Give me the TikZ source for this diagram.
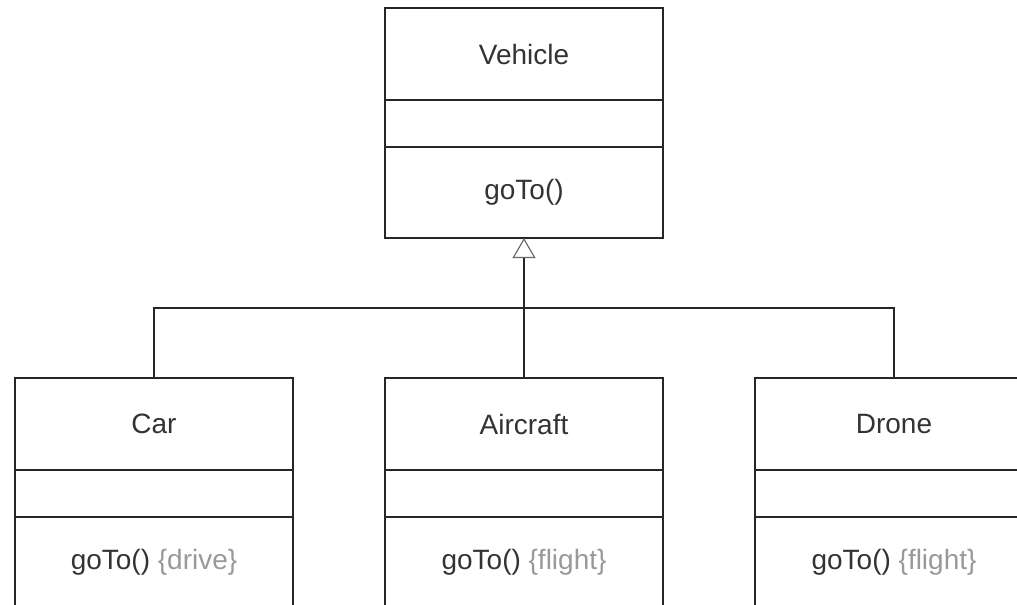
\documentclass[tikz,border=0pt]{standalone}
\usepackage{fontspec}
\setmainfont{Liberation Sans}
\usetikzlibrary{positioning,arrows.meta}

\begin{document}
\begin{tikzpicture}[x=0.025cm, y=-0.025cm]
		\tikzset{
			cpart/.style={
				draw=black!85, line width=1.4pt, rectangle, outer sep=0pt,
				minimum width=6.95cm, text=black!80,
				font=\fontsize{19.9}{24}\selectfont
			},
			cname/.style={
				cpart, minimum height=2.3cm
			},
			cattr/.style={
				cpart, minimum height=1.175cm
			},
			cop/.style={
				cpart, minimum height=2.275cm
			},
			conn/.style={
				draw=black!85, line width=1.4pt
			}
		}
		
		\useasboundingbox (0,0) rectangle (1017,604);
		\clip (0,0) rectangle (1017,604);
		
		\node [cname] (veh) at (524,54) {Vehicle};
		\node [cattr, below=0pt of veh] (veh-a) {};
		\node [cop, below=0pt of veh-a] (veh-o) {goTo()};
		
		\foreach \n/\t/\x/\m in {car/Car/154/drive, air/Aircraft/524/flight, dro/Drone/894/flight}{
			\node [cname] (\n) at (\x,424) {\t};
			\node [cattr, below=0pt of \n] (\n-a) {};
			\node [cop, below=0pt of \n-a] (\n-o) {goTo() \textcolor{black!40}{\{\m\}}};
		}
		
		\path (veh-o.south) -- coordinate[midway] (hub) (air.north);
		\draw [conn, -{Triangle[open, length=0.5cm, width=0.575cm, line width=0.8pt, color=black!60]}] (air.north) -- (veh-o.south);
		\draw [conn] (car.north) |- (hub) -| (dro.north);
		\end{tikzpicture}
\end{document}
